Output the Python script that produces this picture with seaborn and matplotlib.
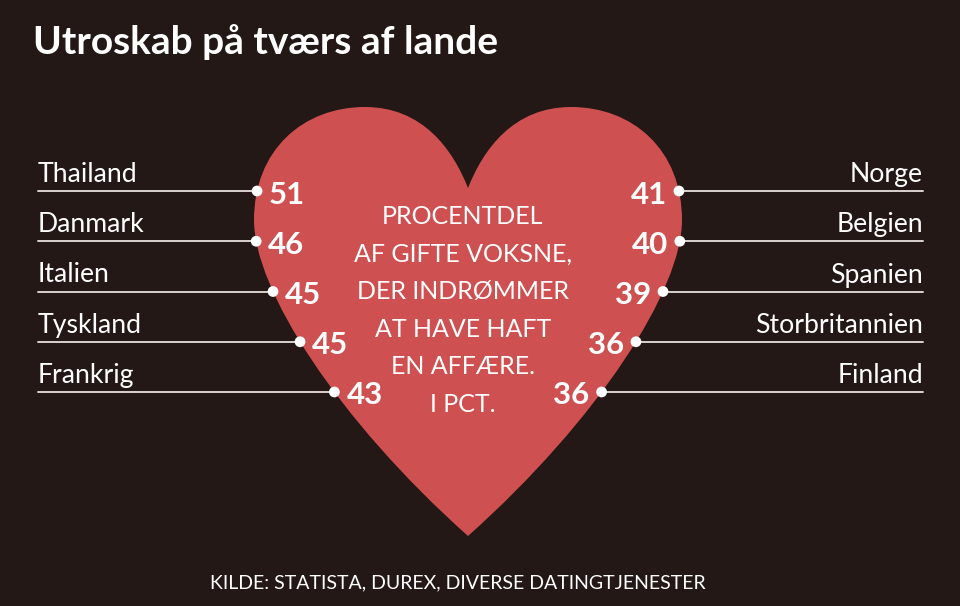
import numpy as np
import pandas as pd
import seaborn as sns
import matplotlib
matplotlib.use("Agg")
import matplotlib.pyplot as plt
from matplotlib.path import Path
from matplotlib.patches import PathPatch

# data
left_countries = ["Thailand", "Danmark", "Italien", "Tyskland", "Frankrig"]
left_values = [51, 46, 45, 45, 43]
right_countries = ["Norge", "Belgien", "Spanien", "Storbritannien", "Finland"]
right_values = [41, 40, 39, 36, 36]

title = "Utroskab på tværs af lande"
center_text = ["PROCENTDEL", "AF GIFTE VOKSNE,", "DER INDRØMMER",
               "AT HAVE HAFT", "EN AFFÆRE.", "I PCT."]
source = "KILDE: STATISTA, DUREX, DIVERSE DATINGTJENESTER"

bg = "#231816"
heart_col = "#cf5050"
line_col = "#d8d2ce"

sns.set_theme(style="white")
plt.rcParams['font.family'] = ['Lato', 'DejaVu Sans']

fig = plt.figure(figsize=(9.6, 6.06), dpi=100, facecolor=bg)
ax = fig.add_axes([0, 0, 1, 1])
ax.set_facecolor(bg)

# heart outline (pixel units, left half, mirrored)
cx = 468
segA = [(0, 188), (-15, 150), (-45, 107), (-103, 107)]
segB = [(-103, 107), (-165, 107), (-214, 150), (-214, 220)]
segC = [(-214, 220), (-214, 290), (-130, 420), (0, 536)]

verts = [segA[0], segA[1], segA[2], segA[3],
         segB[1], segB[2], segB[3],
         segC[1], segC[2], segC[3]]
right = [(-x, y) for x, y in reversed(verts[:-1])]
verts = verts + right
verts = [(cx + x, y) for x, y in verts]
codes = [Path.MOVETO] + [Path.CURVE4] * (len(verts) - 1)
ax.add_patch(PathPatch(Path(verts, codes), facecolor=heart_col, edgecolor='none', zorder=1))


def bez(seg, t):
    p = np.array(seg, dtype=float)
    t = t[:, None]
    return ((1 - t) ** 3 * p[0] + 3 * (1 - t) ** 2 * t * p[1]
            + 3 * (1 - t) * t ** 2 * p[2] + t ** 3 * p[3])


tt = np.linspace(0, 1, 400)
edge = np.vstack([bez(segB, tt), bez(segC, tt)])

row_y = 191 + 50.25 * np.arange(len(left_countries))
half_w = -np.interp(row_y, edge[:, 1], edge[:, 0])

left_df = pd.DataFrame({"x": cx - half_w, "y": row_y, "country": left_countries, "value": left_values})
right_df = pd.DataFrame({"x": cx + half_w, "y": row_y, "country": right_countries, "value": right_values})

for _, r in left_df.iterrows():
    ax.plot([38, r.x], [r.y, r.y], color=line_col, lw=1.4, zorder=2)
    ax.text(38, r.y - 9, r.country, color='white', fontsize=19.2, ha='left', va='baseline')
    ax.text(r.x + 12, r.y + 1, str(r.value), color='white', fontsize=22.5, fontweight='bold',
            ha='left', va='center_baseline', zorder=4)

for _, r in right_df.iterrows():
    ax.plot([r.x, 923], [r.y, r.y], color=line_col, lw=1.4, zorder=2)
    ax.text(923, r.y - 9, r.country, color='white', fontsize=19.2, ha='right', va='baseline')
    ax.text(r.x - 12, r.y + 1, str(r.value), color='white', fontsize=22.5, fontweight='bold',
            ha='right', va='center_baseline', zorder=4)

dots = pd.concat([left_df, right_df])
sns.scatterplot(data=dots, x="x", y="y", ax=ax, color='white', s=60, edgecolor='none',
                zorder=3, legend=False)
ax.set_xlim(0, 960)
ax.set_ylim(606, 0)
ax.axis('off')

for i, line in enumerate(center_text):
    ax.text(463, 224 + 37.6 * i, line, color='white', fontsize=18, ha='center', va='baseline')

ax.text(33, 54, title, color='white', fontsize=28, fontweight='bold', ha='left', va='baseline')
ax.text(458, 588, source, color='white', fontsize=14, ha='center', va='baseline')

fig.savefig("out.png", dpi=100, facecolor=bg)
